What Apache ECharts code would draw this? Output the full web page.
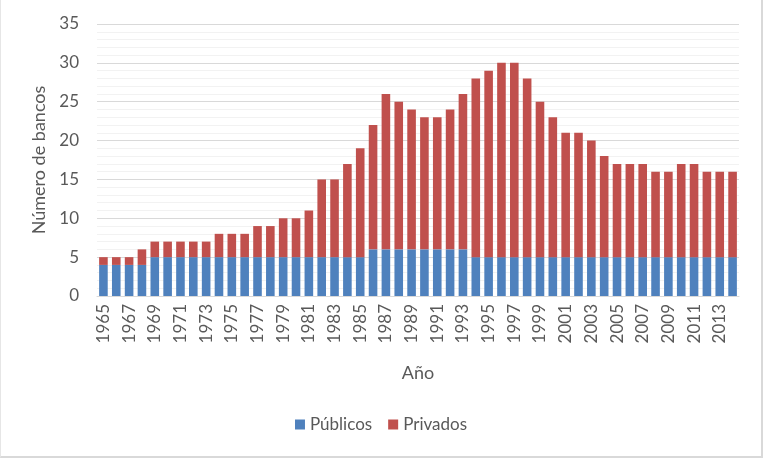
<!DOCTYPE html>
<html><head><meta charset="utf-8">
<script src="https://cdn.jsdelivr.net/npm/echarts@6/dist/echarts.min.js"></script>
<style>html,body{margin:0;padding:0;background:#fff}#c{width:763px;height:458px;box-sizing:border-box;border-right:2px solid #d9d9d9;border-bottom:2px solid #d9d9d9;border-left:1px solid #e6e6e6}</style>
</head><body><div id="c"></div>
<script>
const years = [];
for (let y = 1965; y <= 2014; y++) years.push(String(y));
const publicos = [4,4,4,4,5,5,5,5,5,5,5,5,5,5,5,5,5,5,5,5,5,6,6,6,6,6,6,6,6,5,5,5,5,5,5,5,5,5,5,5,5,5,5,5,5,5,5,5,5,5];
const totales  = [5,5,5,6,7,7,7,7,7,8,8,8,9,9,10,10,11,15,15,17,19,22,26,25,24,23,23,24,26,28,29,30,30,28,25,23,21,21,20,18,17,17,17,16,16,17,17,16,16,16];
const privados = totales.map((t, i) => t - publicos[i]);
const yTicks = [0,5,10,15,20,25,30,35];

const chart = echarts.init(document.getElementById('c'));
const txt = '#595959';
const font = 'Lato';
chart.setOption({
  animation: false,
  textStyle: {fontFamily: font},
  grid: {left: 96, right: 22, top: 24, bottom: 160},
  legend: {
    data: ['Públicos', 'Privados'], bottom: 18, left: 'center',
    itemWidth: 10, itemHeight: 10, itemGap: 16, icon: 'rect',
    textStyle: {color: txt, fontSize: 17, fontFamily: font}
  },
  xAxis: {
    type: 'category', data: years,
    name: 'Año', nameLocation: 'middle', nameGap: 68,
    nameTextStyle: {color: txt, fontSize: 18, fontFamily: font},
    axisLine: {lineStyle: {color: '#d9d9d9'}},
    axisTick: {show: false},
    axisLabel: {interval: 1, rotate: 90, color: txt, fontSize: 17, fontFamily: font, margin: 8}
  },
  yAxis: {
    type: 'value', min: 0, max: 35, interval: 5,
    name: 'Número de bancos', nameLocation: 'middle', nameGap: 46,
    nameTextStyle: {color: txt, fontSize: 18, fontFamily: font},
    axisLine: {show: false}, axisTick: {show: false},
    axisLabel: {color: txt, fontSize: 17, fontFamily: font, margin: 18,
      formatter: v => yTicks.includes(v) ? String(v) : ''},
    splitLine: {lineStyle: {color: '#d9d9d9'}},
    minorTick: {show: false, splitNumber: 5},
    minorSplitLine: {show: true, lineStyle: {color: '#f2f2f2'}}
  },
  series: [
    {name: 'Públicos', type: 'bar', stack: 't', data: publicos, barWidth: 8.6,
     itemStyle: {color: '#4F81BD'}},
    {name: 'Privados', type: 'bar', stack: 't', data: privados, barWidth: 8.6,
     itemStyle: {color: '#C0504D'}}
  ]
});
</script></body></html>
